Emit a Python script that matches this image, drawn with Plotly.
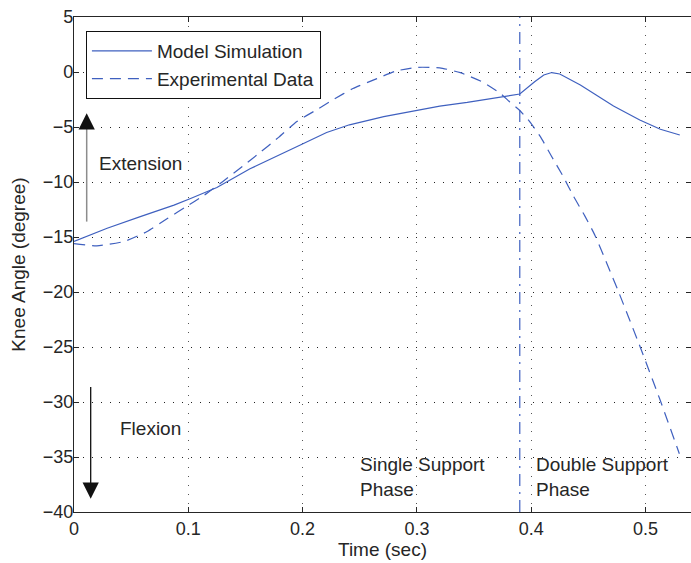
import plotly.graph_objects as go

# ---- data ----
model_t = [0.000, 0.029, 0.058, 0.0875, 0.102, 0.125, 0.154, 0.177, 0.198, 0.221,
           0.241, 0.271, 0.297, 0.320, 0.344, 0.367, 0.379, 0.390, 0.403, 0.411,
           0.418, 0.425, 0.443, 0.457, 0.472, 0.495, 0.513, 0.530]
model_v = [-15.4, -14.2, -13.15, -12.1, -11.5, -10.5, -8.8, -7.7, -6.64, -5.5,
           -4.8, -4.06, -3.55, -3.1, -2.76, -2.4, -2.15, -2.0, -0.88, -0.27,
           -0.05, -0.18, -1.18, -2.1, -3.1, -4.36, -5.2, -5.73]

exp_t = [0.000, 0.020, 0.044, 0.064, 0.082, 0.098, 0.114, 0.130, 0.149, 0.160,
         0.179, 0.195, 0.212, 0.227, 0.244, 0.265, 0.282, 0.300, 0.320, 0.338,
         0.358, 0.373, 0.381, 0.390, 0.3975, 0.408, 0.418, 0.428, 0.437, 0.447,
         0.456, 0.476, 0.4946, 0.5127, 0.5296]
exp_v = [-15.6, -15.8, -15.4, -14.5, -13.3, -12.25, -11.2, -9.97, -8.45, -7.55,
         -5.94, -4.5, -3.45, -2.5, -1.5, -0.6, 0.1, 0.42, 0.38, -0.06,
         -0.94, -1.94, -2.7, -3.5, -4.36, -5.88, -7.7, -9.5, -11.3, -13.1,
         -14.9, -19.88, -24.8, -29.8, -34.7]

phase_switch_t = 0.390
x_ticks = [0, 0.1, 0.2, 0.3, 0.4, 0.5]
x_tick_labels = ["0", "0.1", "0.2", "0.3", "0.4", "0.5"]
y_ticks = [-40, -35, -30, -25, -20, -15, -10, -5, 0, 5]
x_range = [0, 0.5398]
y_range = [-40, 5]

BLUE = "#3f60bf"
TXT = "#262626"
FONT = "Liberation Sans, Arial, Helvetica, sans-serif"

fig = go.Figure()
fig.add_trace(go.Scatter(x=model_t, y=model_v, mode="lines", name="Model Simulation",
                         line=dict(color=BLUE, width=1.2)))
fig.add_trace(go.Scatter(x=exp_t, y=exp_v, mode="lines", name="Experimental Data",
                         line=dict(color=BLUE, width=1.2, dash="11px,7px",
                                   shape="spline", smoothing=0.5)))

# phase separator (dash-dot vertical line)
fig.add_shape(type="line", x0=phase_switch_t, x1=phase_switch_t, y0=0, y1=1,
              xref="x", yref="paper", line=dict(color=BLUE, width=1.2, dash="12px,6px,2px,6px"))

# Extension arrow: grey shaft, black head
fig.add_shape(type="line", x0=0.0111, x1=0.0111, y0=-13.6, y1=-5.0, xref="x", yref="y",
              line=dict(color="#8c8c8c", width=1.5))
fig.add_annotation(x=0.0111, y=-3.75, ax=0.0111, ay=-5.2, xref="x", yref="y",
                   axref="x", ayref="y", showarrow=True, arrowhead=2, arrowsize=2.5,
                   arrowwidth=1.3, arrowcolor="#111111", text="")
# Flexion arrow
fig.add_annotation(x=0.0146, y=-38.8, ax=0.0146, ay=-28.5, xref="x", yref="y",
                   axref="x", ayref="y", showarrow=True, arrowhead=2, arrowsize=2.5,
                   arrowwidth=1.3, arrowcolor="#111111", text="")

txtfont = dict(family=FONT, size=19, color=TXT)
fig.add_annotation(x=0.0203, y=-8.3, text="Extension", showarrow=False,
                   xanchor="left", yanchor="middle", font=txtfont)
fig.add_annotation(x=0.0388, y=-32.45, text="Flexion", showarrow=False,
                   xanchor="left", yanchor="middle", font=txtfont)
fig.add_annotation(x=0.2488, y=-36.8, text="Single Support<br>Phase", showarrow=False,
                   xanchor="left", yanchor="middle", align="left", font=txtfont)
fig.add_annotation(x=0.4024, y=-36.8, text="Double Support<br>Phase", showarrow=False,
                   xanchor="left", yanchor="middle", align="left", font=txtfont)

fig.update_layout(
    width=691, height=563,
    margin=dict(l=74, r=0, t=17, b=51),
    paper_bgcolor="white", plot_bgcolor="white",
    font=dict(family=FONT, size=18, color=TXT),
    showlegend=True,
    legend=dict(x=0.019, y=0.972, xanchor="left", yanchor="top",
                bgcolor="white", bordercolor="#111111", borderwidth=1.2,
                font=dict(family=FONT, size=19, color=TXT), itemwidth=60,
                tracegroupgap=0),
)
fig.update_xaxes(range=x_range, tickvals=x_ticks, ticktext=x_tick_labels,
                 showline=True, linecolor="#262626", linewidth=1.3, mirror="ticks",
                 ticks="inside", ticklen=5, tickcolor="#262626",
                 showgrid=True, gridcolor="#555555", gridwidth=1, griddash="1px,8px",
                 zeroline=False,
                 title=dict(text="Time (sec)", standoff=4, font=dict(size=19)))
fig.update_yaxes(range=y_range, tickvals=y_ticks,
                 showline=True, linecolor="#262626", linewidth=1.3, mirror="ticks",
                 ticks="inside", ticklen=5, tickcolor="#262626",
                 ticklabelstandoff=-4,
                 showgrid=True, gridcolor="#222222", gridwidth=1, griddash="1px,8px",
                 zeroline=False,
                 title=dict(text="Knee Angle (degree)", standoff=12, font=dict(size=19)))

fig.write_html("out.html")
